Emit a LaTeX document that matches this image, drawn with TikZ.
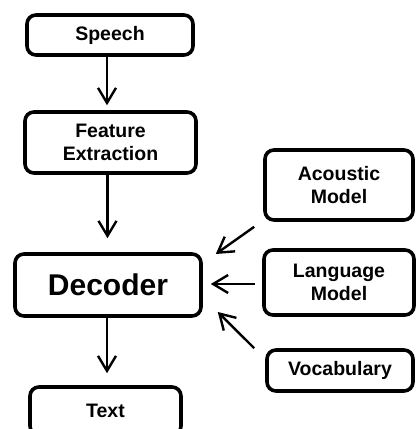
\documentclass[tikz,border=0pt]{standalone}
\usepackage{fontspec}
\setmainfont{Liberation Sans}
\usetikzlibrary{arrows.meta}
\begin{document}
\begin{tikzpicture}[x=1pt,y=-1pt,
  box/.style={draw=black,line width=3.6pt,rounded corners=9pt,fill=white,
    inner sep=0pt,align=center,font=\fontsize{19.5}{23}\selectfont\bfseries},
  arr/.style={-{Straight Barb[length=15pt,width=18pt,line width=2.4pt]},line width=2.4pt}]
  \useasboundingbox[fill=white] (0,0) rectangle (417,429);

  % processing chain on the left
  \node[box,minimum width=166pt,minimum height=40pt] (sp) at (110,35) {Speech};
  \node[box,minimum width=171pt,minimum height=61pt] (fe) at (110.5,142.5) {Feature\\Extraction};
  \node[box,minimum width=186pt,minimum height=62pt,font=\fontsize{30}{34}\selectfont\bfseries] (dec) at (108,285) {Decoder};
  \node[box,minimum width=151pt,minimum height=48pt] (tx) at (105.5,411) {Text};

  % knowledge sources on the right
  \node[box,minimum width=148pt,minimum height=70pt] (am) at (339,185) {Acoustic\\Model};
  \node[box,minimum width=150pt,minimum height=65pt] (lm) at (339,282.5) {Language\\Model};
  \node[box,minimum width=146pt,minimum height=41pt] (vo) at (340,370.5) {Vocabulary};

  % vertical flow
  \draw[arr] ([xshift=-3pt]sp.south) -- ([xshift=-3pt,yshift=5pt]sp.south |- fe.north);
  \draw[arr] ([xshift=-3pt]fe.south) -- ([xshift=-3pt,yshift=14pt]fe.south |- dec.north);
  \draw[arr] ([xshift=-1pt]dec.south) -- ([xshift=-1pt,yshift=12pt]dec.south |- tx.north);

  % inputs to the decoder
  \draw[arr] ([shift={(-9pt,-5pt)}]am.south west) -- ([shift={(13pt,31pt)}]dec.east);
  \draw[arr] ([shift={(-7pt,-1.5pt)}]lm.west) -- ([shift={(8pt,1pt)}]dec.east);
  \draw[arr] ([shift={(-11pt,0pt)}]vo.north west) -- ([shift={(15pt,-27pt)}]dec.east);
\end{tikzpicture}
\end{document}
